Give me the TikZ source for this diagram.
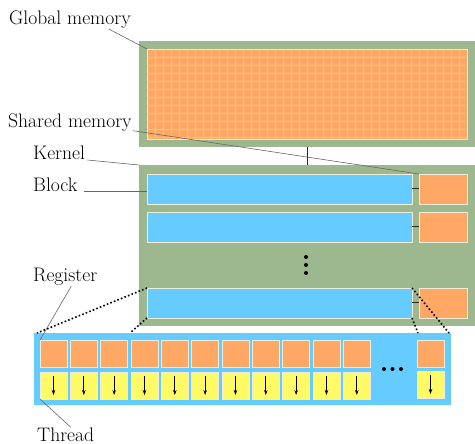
\documentclass[tikz,border=0pt]{standalone}
\usepackage[svgnames, dvipsnames]{xcolor}
\usetikzlibrary{calc, arrows.meta}

\definecolor{memgreen}{RGB}{157,184,143}
\definecolor{memorange}{RGB}{255,168,102}
\definecolor{memblue}{RGB}{102,204,255}
\definecolor{memyellow}{RGB}{255,250,102}
\definecolor{gridorange}{RGB}{255,196,150}
\definecolor{edgecream}{RGB}{240,236,218}

\tikzset{
    panel/.style={fill=memgreen, draw=none, inner sep=0, outer sep=0, anchor=north west},
    cell/.style={draw=edgecream, line width=0.9pt, inner sep=0, outer sep=0, anchor=north west},
    gridline/.style={gridorange, line width=0.8pt},
    tag/.style={inner sep=0, anchor=base west},
    leader/.style={draw=black!60, line width=0.6pt},
    link/.style={draw=black!85, line width=1pt},
    zoomline/.style={draw=black, line width=1.6pt, dash pattern=on 1.6pt off 2.2pt},
    flow/.style={draw=black, line width=0.7pt, -{Stealth[length=5pt, width=3.5pt]}}
}

\begin{document}
\begin{tikzpicture}[x=1pt, y=-1pt, font=\fontsize{19.6}{22}\selectfont]
    \useasboundingbox (0,0) rectangle (475,444);

    % global memory
    \node[panel, minimum width=336, minimum height=106] (global) at (139,41) {};
    \node[cell, fill=memorange, minimum width=320, minimum height=90] (gmem) at (147,49) {};
    \foreach \i in {1,...,39}
        \draw[gridline] ($(gmem.north west)+(8*\i,0)$) -- ++(0,90);
    \foreach \j in {1,...,11}
        \draw[gridline] ($(gmem.north west)+(0,8*\j)$) -- ++(320,0);

    % kernel with its blocks
    \node[panel, minimum width=336, minimum height=161] (kernel) at (139,165) {};
    \draw[link] (global.south) -- (kernel.north);
    \foreach \y [count=\i] in {174,212,288} {
        \node[cell, fill=memblue, minimum width=265, minimum height=30] (blk\i) at (147,\y) {};
        \node[cell, fill=memorange, minimum width=48, minimum height=30] (sh\i) at (419,\y) {};
        \draw[link] (blk\i.east) -- (sh\i.west);
    }
    \foreach \y in {257,265,273}
        \fill (306,\y) circle[radius=2pt]; % vertical dots

    % one block, zoomed
    \node[panel, fill=memblue, minimum width=417, minimum height=72] (tbar) at (34,333) {};
    \foreach \i in {0,...,10} {
        \node[cell, fill=memorange, minimum size=27] (reg\i) at (40+30.33*\i,340) {};
        \node[cell, fill=memyellow, minimum size=27] (thr\i) at (40+30.33*\i,372) {};
    }
    \node[cell, fill=memorange, minimum size=27] (reg11) at (417,340) {};
    \node[cell, fill=memyellow, minimum size=27] (thr11) at (417,371) {};
    \foreach \t in {0,...,11}
        \draw[flow] ($(thr\t.north)+(0,4)$) -- ($(thr\t.south)+(0,-4)$);
    \foreach \x in {384,392.5,401}
        \fill (\x,369) circle[radius=2pt]; % horizontal dots

    \coordinate (zl1) at ($(tbar.north west)+(3,0)$);
    \coordinate (zl2) at ($(tbar.north west)+(96,0)$);
    \coordinate (zr1) at ($(tbar.north east)+(-2,0)$);
    \coordinate (zr2) at ($(tbar.north east)+(-33,0)$);
    \draw[zoomline] (blk3.north west) -- (zl1);
    \draw[zoomline] (blk3.south west) -- (zl2);
    \draw[zoomline] (blk3.north east) -- (zr1);
    \draw[zoomline] (blk3.south east) -- (zr2);

    % labels
    \node[tag] (lglobal) at (9,25) {Global memory};
    \node[tag] (lshared) at (8,128) {Shared memory};
    \node[tag] (lkernel) at (33,160) {Kernel};
    \node[tag] (lblock) at (33,192) {Block};
    \node[tag] (lreg) at (33,282) {Register};
    \node[tag] (lthread) at (37,441) {Thread};

    \draw[leader] ($(lglobal.south east)+(-22,0)$) -- (gmem.north west);
    \draw[leader] ($(lshared.south east)+(1,-1.5)$) -- (sh1.north west);
    \draw[leader] ($(lkernel.base east)+(2,0)$) -- (kernel.north west);
    \draw[leader] ($(lblock.base east)+(6,-1)$) -- ($(lblock.base east -| blk1.west)+(0,-1)$);
    \draw[leader] ($(lreg.south)+(6,0)$) -- (reg0.north west);
    \draw[leader] ($(lthread.north)+(5,0)$) -- (thr0.south west);
\end{tikzpicture}
\end{document}
